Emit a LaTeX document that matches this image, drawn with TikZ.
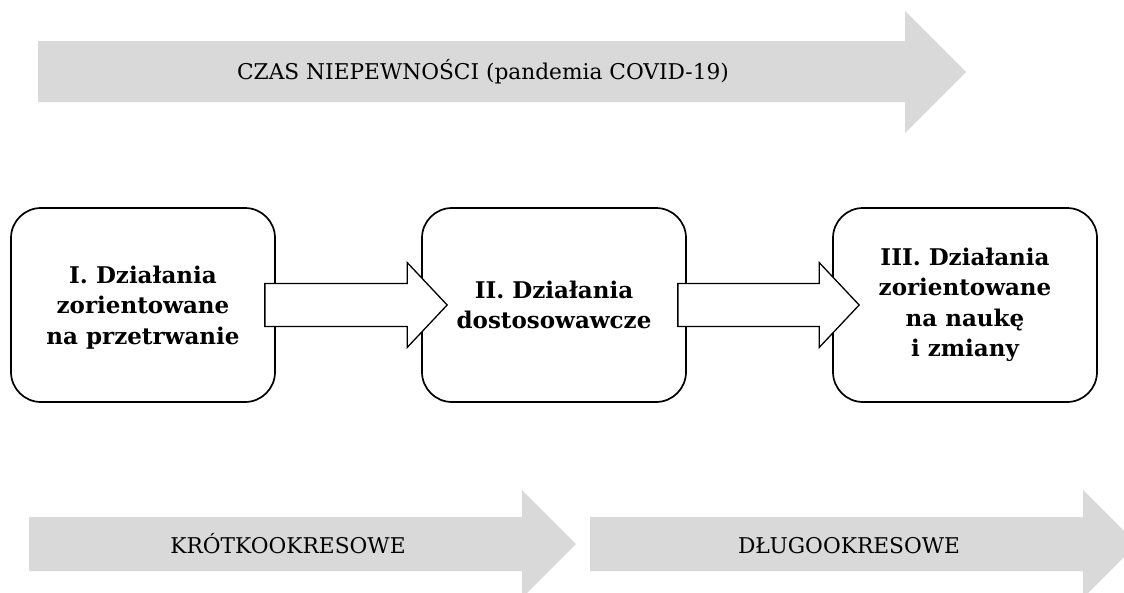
\documentclass[tikz,border=0pt]{standalone}
\usepackage{fontspec}
\setmainfont{DejaVu Serif}
\usetikzlibrary{calc}
\definecolor{bandgray}{HTML}{D9D9D9}

\begin{document}
\begin{tikzpicture}[x=1pt,y=-1pt,
	band/.style={fill=bandgray},
	bandtext/.style={anchor=base,font=\fontsize{21.7}{26}\selectfont},
	stage/.style={draw,line width=1.7pt,rounded corners=30pt,minimum width=264pt,minimum height=194pt,align=center,font=\fontsize{23}{30.5}\selectfont\bfseries},
	flow/.style={draw,line width=1.3pt,fill=white}]
	\clip (0,0) rectangle (1124,592);

	% time band on top
	\fill[band] (38,41) -- (905,41) -- (905,11) -- (966,72) -- (905,133) -- (905,102) -- (38,102) -- cycle;
	\node[bandtext] (czas) at (483,79) {CZAS NIEPEWNOŚCI (pandemia COVID-19)};

	% three stages
	\node[stage,text depth=0pt] (s1) at (143,305) {I. Działania\\zorientowane\\na przetrwanie};
	\node[stage] (s2) at (554,305) {II. Działania\\dostosowawcze};
	\node[stage] (s3) at (965,305) {III. Działania\\zorientowane\\na naukę\\i zmiany};

	\draw[flow] ($(s1.east)+(-11,-21.5)$) -- ($(s2.west)+(-14,-21.5)$) -- ($(s2.west)+(-14,-42.5)$) -- ($(s2.west)+(26,0)$) -- ($(s2.west)+(-14,42.5)$) -- ($(s2.west)+(-14,21.5)$) -- ($(s1.east)+(-11,21.5)$) -- cycle;
	\draw[flow] ($(s2.east)+(-9,-21.5)$) -- ($(s3.west)+(-13,-21.5)$) -- ($(s3.west)+(-13,-42.5)$) -- ($(s3.west)+(27,0)$) -- ($(s3.west)+(-13,42.5)$) -- ($(s3.west)+(-13,21.5)$) -- ($(s2.east)+(-9,21.5)$) -- cycle;

	% horizon bands at the bottom
	\fill[band] (29,517) -- (522,517) -- (522,490) -- (576,544) -- (522,598) -- (522,571) -- (29,571) -- cycle;
	\node[bandtext] (krotko) at (288,553) {KRÓTKOOKRESOWE};
	\fill[band] (590,517) -- (1083,517) -- (1083,490) -- (1137,544) -- (1083,598) -- (1083,571) -- (590,571) -- cycle;
	\node[bandtext] (dlugo) at (849,553) {DŁUGOOKRESOWE};
\end{tikzpicture}
\end{document}
